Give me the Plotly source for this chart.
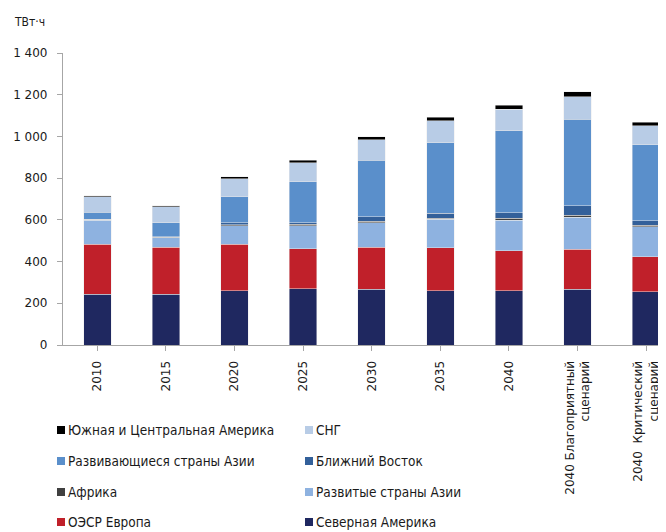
import plotly.graph_objects as go

categories = ["2010", "2015", "2020", "2025", "2030", "2035", "2040",
              "2040 Благоприятный<br>сценарий", "2040  Критический<br>сценарий"]

# stacked from bottom to top, TWh
north_america = [243, 243, 259, 270, 267, 259, 260, 267, 256]
oecd_europe = [240, 225, 224, 192, 201, 207, 191, 193, 167]
developed_asia = [116, 46, 89, 110, 118, 136, 148, 152, 143]
africa = [3, 3, 5, 6, 7, 6, 8, 10, 8]
middle_east = [2, 2, 9, 8, 22, 23, 27, 46, 22]
developing_asia = [32, 67, 125, 197, 270, 339, 393, 415, 363]
cis = [75, 77, 85, 91, 98, 105, 104, 107, 92]
south_america = [4, 5, 10, 11, 16, 17, 19, 24, 18]

y_ticks = [0, 200, 400, 600, 800, 1000, 1200, 1400]
y_tick_text = ["0", "200", "400", "600", "800", "1 000", "1 200", "1 400"]

series = [
    ("Северная Америка", north_america, "#1f2860"),
    ("ОЭСР Европа", oecd_europe, "#c0202a"),
    ("Развитые страны Азии", developed_asia, "#8eb2e0"),
    ("Африка", africa, "#404040"),
    ("Ближний Восток", middle_east, "#33609a"),
    ("Развивающиеся страны Азии", developing_asia, "#5a8fcb"),
    ("СНГ", cis, "#b8cce6"),
    ("Южная и Центральная Америка", south_america, "#000000"),
]

# page has an 8px body margin, so the figure is shifted by OFF inside the window
OFF = 8
W, H = 658, 524
L, R, T, B = 55, 0, 45, 187
pw, ph = W - L - R, H - T - B
FONT = "DejaVu Sans"


def px(x):
    # window pixel -> paper x
    return (x - OFF - L) / pw


def py(y):
    # window pixel -> paper y
    return (H - B - (y - OFF)) / ph


fig = go.Figure()
for name, vals, colour in series:
    fig.add_trace(go.Bar(
        x=list(range(len(categories))), y=vals, name=name,
        marker=dict(color=colour, line=dict(color="rgba(235,235,235,0.8)", width=0.6)),
        width=0.4, showlegend=False,
    ))

# hand-placed legend: 2 columns, 4 rows (top row first)
legend_rows = [
    ("Южная и Центральная Америка", "СНГ"),
    ("Развивающиеся страны Азии", "Ближний Восток"),
    ("Африка", "Развитые страны Азии"),
    ("ОЭСР Европа", "Северная Америка"),
]
colour_of = {n: c for n, _, c in series}
row_y = [430, 461, 492, 522]
col_x = [57, 305]
for (a, b), yy in zip(legend_rows, row_y):
    for name, xx in zip((a, b), col_x):
        fig.add_shape(type="rect", xref="paper", yref="paper",
                      x0=px(xx), x1=px(xx + 8), y0=py(yy + 4), y1=py(yy - 4),
                      fillcolor=colour_of[name], line=dict(width=0))
        fig.add_annotation(xref="paper", yref="paper", x=px(xx + 9), y=py(yy),
                           text=name, showarrow=False, xanchor="left", yanchor="middle",
                           font=dict(family="DejaVu Sans Condensed", size=13.5, color="#1a1a1a"))

fig.add_annotation(xref="paper", yref="paper", x=px(12), y=py(22), text="ТВт·ч",
                   showarrow=False, xanchor="left", yanchor="middle",
                   font=dict(family="DejaVu Sans Condensed", size=12, color="#1a1a1a"))

fig.update_xaxes(
    tickmode="array", tickvals=list(range(len(categories))), ticktext=categories,
    tickangle=-90, range=[-0.5, -0.5 + pw / 68.6],
    showline=True, linecolor="#a6a6a6", linewidth=1.2,
    ticks="outside", ticklen=5, tickcolor="#a6a6a6", tickson="boundaries",
    ticklabelstandoff=5,
    showgrid=False, tickfont=dict(family=FONT, size=12, color="#1a1a1a"),
)
fig.update_yaxes(
    range=[0, 1400], tickmode="array", tickvals=y_ticks, ticktext=y_tick_text,
    showline=True, linecolor="#a6a6a6", linewidth=1.2,
    ticks="outside", ticklen=5, tickcolor="#a6a6a6", ticklabelstandoff=7,
    showgrid=False, zeroline=False, tickfont=dict(family=FONT, size=12, color="#1a1a1a"),
)
fig.update_layout(
    barmode="stack", width=W, height=H,
    margin=dict(l=L, r=R, t=T, b=B, autoexpand=False),
    paper_bgcolor="white", plot_bgcolor="white",
)
fig.write_html("out.html")
